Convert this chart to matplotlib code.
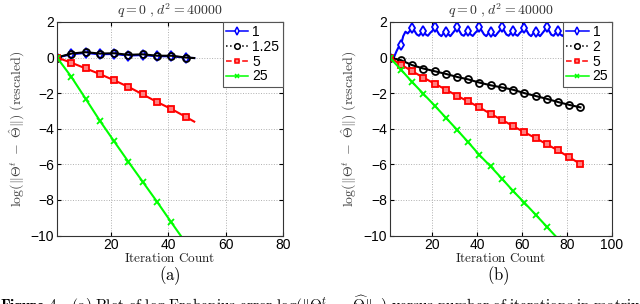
import matplotlib
matplotlib.use('Agg')
from matplotlib import pyplot as plt
from matplotlib.lines import Line2D

plt.rcParams['mathtext.fontset'] = 'cm'
plt.rcParams['font.family'] = ['Liberation Sans', 'DejaVu Sans']

# ---- (a) data: values read at the marker iterations (every 5) + last point
iters_a = [1, 6, 11, 16, 21, 26, 31, 36, 41, 46, 49]
blue_a = [0.0, 0.18, 0.26, 0.18, 0.2, 0.11, 0.14, 0.07, 0.07, -0.01, -0.03]
black_a = [0.0, 0.22, 0.3, 0.22, 0.24, 0.15, 0.18, 0.1, 0.1, 0.0, -0.03]
red_a = [0.0, -0.29, -0.61, -0.93, -1.28, -1.65, -2.07, -2.5, -2.89, -3.33, -3.6]
iters_a_green = [1, 6, 11, 16, 21, 26, 31, 36, 41, 46]
green_a = [0.0, -1.08, -2.31, -3.55, -4.71, -5.86, -6.98, -8.1, -9.26, -10.4]
labels_a = ['1', '1.25', '5', '25']

# ---- (b) data
iters_b = [1, 6, 11, 16, 21, 26, 31, 36, 41, 46, 51, 56, 61, 66, 71, 76, 81, 86]
black_b = [0.0, -0.15, -0.43, -0.62, -0.77, -0.92, -1.09, -1.23, -1.41, -1.56,
           -1.68, -1.81, -2.0, -2.16, -2.32, -2.5, -2.66, -2.8]
red_b = [0.0, -0.4, -0.77, -1.13, -1.47, -1.8, -2.15, -2.47, -2.8, -3.17,
         -3.5, -3.85, -4.2, -4.52, -4.87, -5.22, -5.6, -5.98]
iters_b_green = [1, 6, 11, 16, 21, 26, 31, 36, 41, 46, 51, 56, 61, 66, 71, 76]
green_b = [0.0, -0.68, -1.38, -2.04, -2.7, -3.38, -4.06, -4.76, -5.48, -6.12,
           -6.8, -7.5, -8.15, -8.82, -9.5, -10.18]
# blue one oscillates, so every iteration 1..86
blue_b = [0.0, 0.02, 0.05, 0.35, 0.6, 0.7, 1.2, 1.45, 1.35, 1.5,
          1.68, 1.5, 1.3, 1.22, 1.38, 1.48, 1.3, 1.22, 1.38, 1.5,
          1.7, 1.52, 1.3, 1.2, 1.36, 1.46, 1.32, 1.2, 1.36, 1.52,
          1.7, 1.5, 1.28, 1.22, 1.38, 1.47, 1.3, 1.21, 1.37, 1.5,
          1.69, 1.51, 1.3, 1.2, 1.36, 1.46, 1.31, 1.2, 1.36, 1.51,
          1.7, 1.5, 1.29, 1.22, 1.38, 1.48, 1.3, 1.22, 1.38, 1.5,
          1.68, 1.52, 1.3, 1.2, 1.36, 1.46, 1.32, 1.2, 1.36, 1.52,
          1.7, 1.5, 1.28, 1.22, 1.38, 1.47, 1.3, 1.21, 1.37, 1.5,
          1.69, 1.51, 1.3, 1.2, 1.36, 1.46]
labels_b = ['1', '2', '5', '25']

BLUE = '#0000ff'
BLACK = '#000000'
RED = '#ff0000'
GREEN = '#00ff00'

ylabel = r'$\log(\|\Theta^t\ -\ \hat{\Theta}\|)\ \mathrm{(rescaled)}$'
title = r'$q = 0\ ,d^2 = 40000$'


def style_axes(ax, xmax, xticks):
    ax.set_xlim(1, xmax)
    ax.set_ylim(-10, 2)
    ax.set_xticks(xticks)
    ax.set_yticks([-10, -8, -6, -4, -2, 0, 2])
    ax.grid(True, linestyle=':', color='#b0b0b0', linewidth=0.7)
    ax.tick_params(direction='in', length=3, labelsize=10, top=True, right=True, pad=2)
    for s in ax.spines.values():
        s.set_color('#333333')
        s.set_linewidth(0.8)
    ax.set_title(title, fontsize=10, pad=5, color='#333333')
    ax.set_xlabel(r'$\mathrm{Iteration\ Count}$', fontsize=9.5, labelpad=0, color='#222222')
    ax.set_ylabel(ylabel, fontsize=10, labelpad=3, color='#444444')


def legend_handles():
    return [
        Line2D([], [], color=BLUE, lw=1.1, ls='-', marker='d', ms=4, mfc='white', mew=1.1),
        Line2D([], [], color=BLACK, lw=1.1, ls=':', marker='o', ms=4, mfc='white', mew=1.1),
        Line2D([], [], color=RED, lw=1.1, ls='--', marker='s', ms=3.5, mfc='#ff8080', mew=1.1),
        Line2D([], [], color=GREEN, lw=1.1, ls='-', marker='x', ms=3.5, mew=1.1),
    ]


def add_legend(ax, labels):
    leg = ax.legend(legend_handles(), labels, loc='upper right', borderaxespad=0,
                    fontsize=10, handlelength=1.6, labelspacing=0.05, handletextpad=0.3,
                    borderpad=0.25, fancybox=False, framealpha=1, edgecolor='#555555')
    leg.get_frame().set_linewidth(0.8)


fig = plt.figure(figsize=(6.4, 3.04), dpi=100)
ax1 = fig.add_axes([0.089, 0.225, 0.353, 0.703])
ax2 = fig.add_axes([0.609, 0.225, 0.347, 0.703])

# (a)
ax1.plot(iters_a, blue_a, color=BLUE, lw=1.5, marker='d', ms=5, mfc='white', mew=1.3,
         markevery=list(range(10)))
ax1.plot(iters_a, black_a, color=BLACK, lw=1.5, marker='o', ms=5, mfc='none', mew=1.3,
         markevery=list(range(10)))
ax1.plot(iters_a, red_a, color=RED, lw=1.5, marker='s', ms=4.5, mfc='#ff8080', mew=1.3,
         markevery=list(range(10)))
ax1.plot(iters_a_green, green_a, color=GREEN, lw=1.5, marker='x', ms=4.5, mew=1.3)
style_axes(ax1, 80, [20, 40, 60, 80])
add_legend(ax1, labels_a)

# (b)
iters_b_all = list(range(1, len(blue_b) + 1))
ax2.plot(iters_b_all, blue_b, color=BLUE, lw=1.5, marker='d', ms=5, mfc='white', mew=1.3,
         markevery=5)
ax2.plot(iters_b, black_b, color=BLACK, lw=1.5, marker='o', ms=5, mfc='none', mew=1.3)
ax2.plot(iters_b, red_b, color=RED, lw=1.5, marker='s', ms=4.5, mfc='#ff8080', mew=1.3)
ax2.plot(iters_b_green, green_b, color=GREEN, lw=1.5, marker='x', ms=4.5, mew=1.3)
style_axes(ax2, 100, [20, 40, 60, 80, 100])
add_legend(ax2, labels_b)

fig.text(0.265, 0.092, r'$\mathrm{(a)}$', ha='center', va='center', fontsize=12)
fig.text(0.778, 0.092, r'$\mathrm{(b)}$', ha='center', va='center', fontsize=12)

# caption is cut off at the bottom edge in the original
fig.text(0.0, 0.035,
         r'$\mathbf{Figure\ 4.}\ \ \mathrm{(a)\ Plot\ of\ log\ Frobenius\ error\ }'
         r'\log(\|\Theta^t\ -\ \widehat{\Theta}\|_F)'
         r'\mathrm{\ versus\ number\ of\ iterations\ in\ matrix}$',
         ha='left', va='top', fontsize=11)

fig.savefig('out.png', dpi=100)
